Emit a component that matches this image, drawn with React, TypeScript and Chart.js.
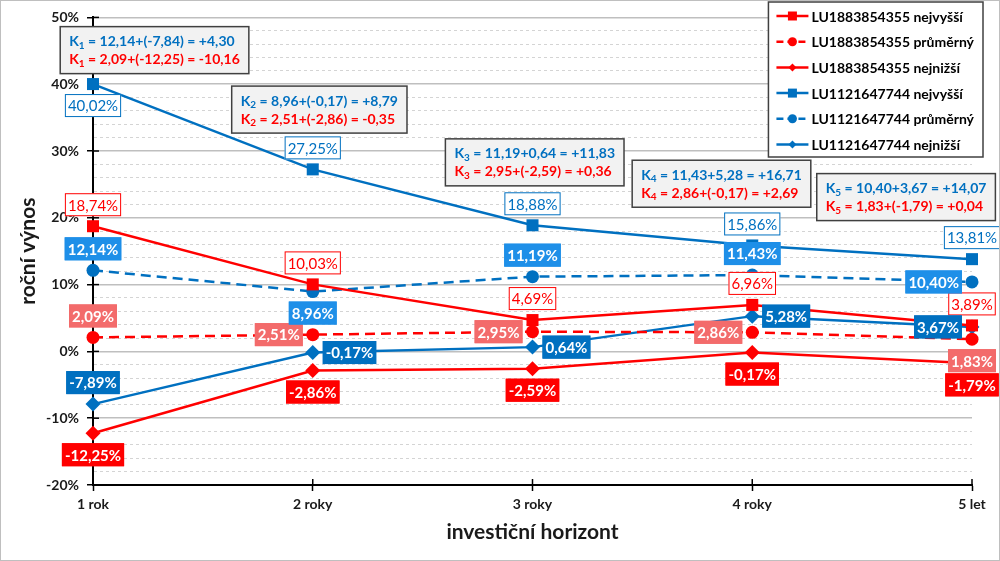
import { useEffect, useRef } from "react";
import { Chart, registerables } from "chart.js";

Chart.register(...registerables);

const RED = "#ff0000";
const BLUE = "#0070c0";

// investiční horizont
const horizons = ["1 rok", "2 roky", "3 roky", "4 roky", "5 let"];

// roční výnos v %
const redMax = [18.74, 10.03, 4.69, 6.96, 3.89];
const redAvg = [2.09, 2.51, 2.95, 2.86, 1.83];
const redMin = [-12.25, -2.86, -2.59, -0.17, -1.79];
const blueMax = [40.02, 27.25, 18.88, 15.86, 13.81];
const blueAvg = [12.14, 8.96, 11.19, 11.43, 10.4];
const blueMin = [-7.89, -0.17, 0.64, 5.28, 3.67];

const seriesNames = [
  "LU1883854355 nejvyšší",
  "LU1883854355 průměrný",
  "LU1883854355 nejnižší",
  "LU1121647744 nejvyšší",
  "LU1121647744 průměrný",
  "LU1121647744 nejnižší",
];

// texty K boxů
const blueK = [
  "12,14+(-7,84) = +4,30",
  "8,96+(-0,17) = +8,79",
  "11,19+0,64 = +11,83",
  "11,43+5,28 = +16,71",
  "10,40+3,67 = +14,07",
];
const redK = [
  "2,09+(-12,25) = -10,16",
  "2,51+(-2,86) = -0,35",
  "2,95+(-2,59) = +0,36",
  "2,86+(-0,17) = +2,69",
  "1,83+(-1,79) = +0,04",
];

// kde leží K boxy (střed, v jednotkách os)
const kAnchors = [
  { x: 0.28, y: 45.1 },
  { x: 1.03, y: 36.2 },
  { x: 2.01, y: 28.3 },
  { x: 2.86, y: 25.1 },
  { x: 3.7, y: 23.1 },
];

// umístění popisků u bodů
const labelPos = [
  ["top", "top", "top", "top", "top"],
  ["top", "left", "left", "left", "bottom"],
  ["bottom", "bottom", "bottom", "bottom", "bottom"],
  ["bottom", "top", "top", "top", "top"],
  ["top", "bottom", "top", "top", "left"],
  ["top", "right", "right", "right", "left"],
];

const labelStyles = [
  { fill: "#ffffff", stroke: RED, text: RED, bold: false },
  { fill: "#f36b6b", stroke: "#f36b6b", text: "#ffffff", bold: true },
  { fill: RED, stroke: RED, text: "#ffffff", bold: true },
  { fill: "#ffffff", stroke: BLUE, text: BLUE, bold: false },
  { fill: "#1e8fe8", stroke: "#1e8fe8", text: "#ffffff", bold: true },
  { fill: BLUE, stroke: BLUE, text: "#ffffff", bold: true },
];

const FONT = "Lato, 'Noto Sans', sans-serif";

const fmt = (v: number) => v.toFixed(2).replace(".", ",") + "%";

function drawMarker(ctx: CanvasRenderingContext2D, style: string, x: number, y: number, r: number) {
  ctx.beginPath();
  if (style === "rect") {
    ctx.rect(x - r, y - r, 2 * r, 2 * r);
  } else if (style === "circle") {
    ctx.arc(x, y, r, 0, Math.PI * 2);
  } else {
    ctx.moveTo(x, y - r);
    ctx.lineTo(x + r, y);
    ctx.lineTo(x, y + r);
    ctx.lineTo(x - r, y);
    ctx.closePath();
  }
  ctx.fill();
}

const extrasPlugin = {
  id: "extras",
  beforeDatasetsDraw(chart: any) {
    const { ctx, chartArea, scales } = chart;
    ctx.save();
    ctx.strokeStyle = "#000";
    ctx.lineWidth = 1.5;
    // vnitřní část značek os
    scales.y.ticks.forEach((t: any) => {
      if (Math.round(t.value) % 10 !== 0) return;
      const y = scales.y.getPixelForValue(t.value);
      ctx.beginPath();
      ctx.moveTo(chartArea.left, y);
      ctx.lineTo(chartArea.left + 6, y);
      ctx.stroke();
    });
    horizons.forEach((_, i) => {
      const x = scales.x.getPixelForValue(i);
      ctx.beginPath();
      ctx.moveTo(x, chartArea.bottom);
      ctx.lineTo(x, chartArea.bottom - 6);
      ctx.stroke();
    });
    ctx.restore();
  },
  afterDatasetsDraw(chart: any) {
    const { ctx, scales, chartArea } = chart;
    ctx.save();

    // popisky bodů
    chart.data.datasets.forEach((ds: any, si: number) => {
      const meta = chart.getDatasetMeta(si);
      const st = labelStyles[si];
      ctx.font = `${st.bold ? "bold " : ""}15px ${FONT}`;
      ctx.textAlign = "center";
      ctx.textBaseline = "middle";
      ds.data.forEach((v: number, i: number) => {
        const pt = meta.data[i];
        const txt = fmt(v);
        const w = ctx.measureText(txt).width + 6;
        const h = 23;
        const gap = 10;
        let cx = pt.x;
        let cy = pt.y;
        const pos = labelPos[si][i];
        if (pos === "top") cy = pt.y - gap - h / 2;
        if (pos === "bottom") cy = pt.y + gap + h / 2;
        if (pos === "left") cx = pt.x - gap - w / 2;
        if (pos === "right") cx = pt.x + gap + w / 2;
        ctx.fillStyle = st.fill;
        ctx.fillRect(cx - w / 2, cy - h / 2, w, h);
        ctx.strokeStyle = st.stroke;
        ctx.lineWidth = 1;
        ctx.strokeRect(cx - w / 2 + 0.5, cy - h / 2 + 0.5, w - 1, h - 1);
        ctx.fillStyle = st.text;
        ctx.fillText(txt, cx, cy + 1);
      });
    });

    // K boxy
    const mainFont = `bold 14px ${FONT}`;
    const subFont = `bold 10px ${FONT}`;
    const lineWidth = (rest: string, sub: string) => {
      ctx.font = mainFont;
      const a = ctx.measureText("K").width;
      const c = ctx.measureText(" = " + rest).width;
      ctx.font = subFont;
      const b = ctx.measureText(sub).width;
      return a + b + c;
    };
    const drawK = (x: number, y: number, sub: string, rest: string, color: string) => {
      ctx.fillStyle = color;
      ctx.textAlign = "left";
      ctx.textBaseline = "middle";
      ctx.font = mainFont;
      ctx.fillText("K", x, y);
      const a = ctx.measureText("K").width;
      ctx.font = subFont;
      ctx.fillText(sub, x + a, y + 4);
      const b = ctx.measureText(sub).width;
      ctx.font = mainFont;
      ctx.fillText(" = " + rest, x + a + b, y);
    };
    kAnchors.forEach((an, i) => {
      const sub = String(i + 1);
      const w = Math.max(lineWidth(blueK[i], sub), lineWidth(redK[i], sub)) + 18;
      const h = 47;
      const cx = scales.x.getPixelForValue(an.x);
      const cy = scales.y.getPixelForValue(an.y);
      const left = cx - w / 2;
      const top = cy - h / 2;
      ctx.fillStyle = "#f2f2f2";
      ctx.fillRect(left, top, w, h);
      ctx.strokeStyle = "#404040";
      ctx.lineWidth = 1.5;
      ctx.strokeRect(left, top, w, h);
      drawK(left + 9, top + 15, sub, blueK[i], BLUE);
      drawK(left + 9, top + 33, sub, redK[i], RED);
    });

    // legenda
    const legendFont = `bold 14px ${FONT}`;
    ctx.font = legendFont;
    const textW = Math.max(...seriesNames.map((n) => ctx.measureText(n).width));
    const lw = textW + 52;
    const lh = 155;
    const lx = chartArea.right + 11 - lw;
    const ly = 1;
    ctx.fillStyle = "#ffffff";
    ctx.fillRect(lx, ly, lw, lh);
    ctx.strokeStyle = "#404040";
    ctx.lineWidth = 1.5;
    ctx.strokeRect(lx, ly, lw, lh);
    chart.data.datasets.forEach((ds: any, si: number) => {
      const y = ly + 14 + si * 25.7;
      ctx.strokeStyle = ds.borderColor;
      ctx.fillStyle = ds.borderColor;
      ctx.lineWidth = 2.5;
      ctx.setLineDash(ds.borderDash && ds.borderDash.length ? [7, 4] : []);
      ctx.beginPath();
      ctx.moveTo(lx + 8, y);
      ctx.lineTo(lx + 40, y);
      ctx.stroke();
      ctx.setLineDash([]);
      const r = ds.pointStyle === "rectRot" ? 4 : 4.5;
      drawMarker(ctx, ds.pointStyle === "rectRot" ? "diamond" : ds.pointStyle, lx + 24, y, r);
      ctx.fillStyle = "#000";
      ctx.textAlign = "left";
      ctx.textBaseline = "middle";
      ctx.font = legendFont;
      ctx.fillText(seriesNames[si], lx + 43, y + 1);
    });

    ctx.restore();
  },
};

function line(label: string, data: number[], color: string, style: string, dashed: boolean) {
  const radius = style === "rect" ? 8.5 : style === "circle" ? 6.5 : 7.5;
  return {
    label,
    data,
    borderColor: color,
    backgroundColor: color,
    borderWidth: 2.5,
    borderDash: dashed ? [10, 6] : [],
    pointStyle: style,
    pointRadius: radius,
    pointHoverRadius: radius,
    pointBorderWidth: 0,
    tension: 0,
    clip: false as any,
  };
}

export default function App() {
  const chartRef = useRef<HTMLCanvasElement>(null);
  const chartInstance = useRef<Chart | null>(null);

  useEffect(() => {
    document.body.style.margin = "0";
    if (chartInstance.current) {
      chartInstance.current.destroy();
    }
    const canvas = chartRef.current;
    if (!canvas) return;

    Chart.defaults.font.family = FONT;

    chartInstance.current = new Chart(canvas, {
      type: "line",
      data: {
        labels: horizons,
        datasets: [
          line(seriesNames[0], redMax, RED, "rect", false),
          line(seriesNames[1], redAvg, RED, "circle", true),
          line(seriesNames[2], redMin, RED, "rectRot", false),
          line(seriesNames[3], blueMax, BLUE, "rect", false),
          line(seriesNames[4], blueAvg, BLUE, "circle", true),
          line(seriesNames[5], blueMin, BLUE, "rectRot", false),
        ] as any,
      },
      options: {
        animation: false,
        responsive: true,
        maintainAspectRatio: false,
        layout: { padding: { top: 15, right: 27, left: 0, bottom: 0 } },
        plugins: {
          legend: { display: false },
          tooltip: { enabled: false },
        },
        scales: {
          x: {
            offset: false,
            afterFit: (s: any) => {
              s.height = 75;
            },
            grid: { drawOnChartArea: false, drawTicks: true, tickLength: 6, tickColor: "#000", tickWidth: 1.5 },
            border: { color: "#000", width: 2 },
            ticks: { color: "#1a1a1a", font: { size: 14, weight: "bold" }, padding: 5 },
            title: {
              display: true,
              text: "investiční horizont",
              color: "#1a1a1a",
              font: { size: 21, weight: "bold" },
              padding: { top: 0, bottom: 15 },
            },
          },
          y: {
            min: -20,
            max: 50,
            afterFit: (s: any) => {
              s.width = 92;
            },
            grid: {
              color: (c: any) => (c.tick && Math.round(c.tick.value) % 10 === 0 ? "#bfbfbf" : "#d4d4d4"),
              lineWidth: (c: any) => (c.tick && Math.round(c.tick.value) % 10 === 0 ? 1.5 : 1),
              tickLength: 6,
              tickColor: (c: any) => (c.tick && Math.round(c.tick.value) % 10 === 0 ? "#000" : "rgba(0,0,0,0)"),
              tickWidth: 1.5,
            },
            border: {
              color: "#000",
              width: 2,
              dash: (c: any) => (c.tick && Math.round(c.tick.value) % 10 !== 0 ? [3, 3] : []),
            },
            ticks: {
              stepSize: 2,
              autoSkip: false,
              color: "#1a1a1a",
              font: { size: 14, weight: "bold" },
              padding: 8,
              callback: (v: any) => (Math.round(v) % 10 === 0 ? Math.round(v) + "%" : ""),
            },
            title: {
              display: true,
              text: "roční výnos",
              color: "#1a1a1a",
              font: { size: 21, weight: "bold" },
              padding: { top: 15, bottom: 0 },
            },
          },
        },
      },
      plugins: [extrasPlugin],
    });

    return () => {
      if (chartInstance.current) {
        chartInstance.current.destroy();
        chartInstance.current = null;
      }
    };
  }, []);

  return (
    <div
      style={{
        width: 1000,
        height: 561,
        boxSizing: "border-box",
        border: "1px solid #bfbfbf",
        background: "#fff",
        position: "relative",
      }}
    >
      <canvas ref={chartRef} />
    </div>
  );
}
